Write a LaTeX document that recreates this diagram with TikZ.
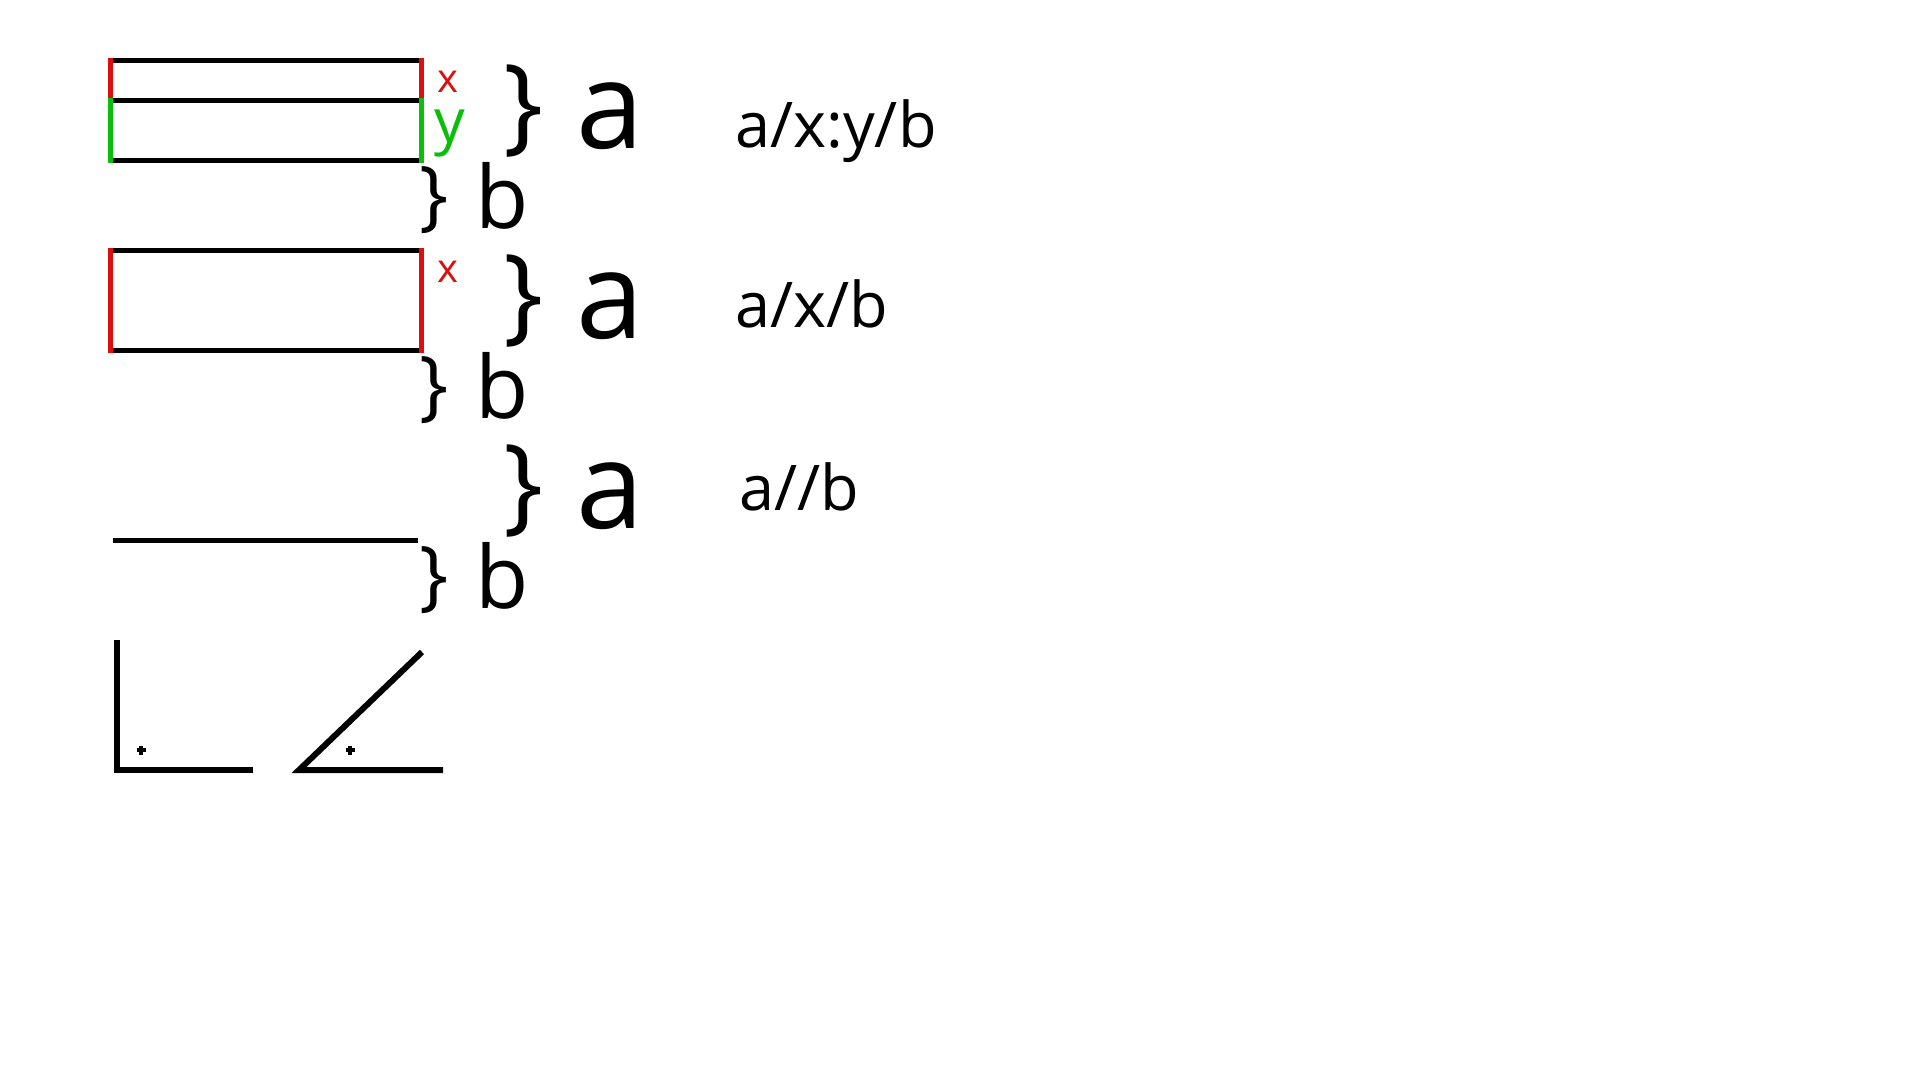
\documentclass[tikz,border=0pt]{standalone}
\usepackage{fontspec}
\setmainfont{Open Sans}
\definecolor{myred}{RGB}{220,15,15}
\definecolor{mygreen}{RGB}{10,190,10}
\tikzset{
  edge/.style={line width=5pt, line cap=butt},
  angleline/.style={line width=5.5pt, line cap=butt, line join=miter},
  txt/.style={inner sep=0pt, anchor=base west},
  bigbrace/.style={txt, font=\fontsize{106}{106}\selectfont},
  smallbrace/.style={txt, font=\fontsize{77}{77}\selectfont},
  biga/.style={txt, font=\fontsize{121}{121}\selectfont},
  bigb/.style={txt, font=\fontsize{87}{87}\selectfont},
  formula/.style={txt, font=\fontsize{63}{63}\selectfont},
  xlabel/.style={txt, text=myred, font=\fontsize{40}{40}\selectfont},
  ylabel/.style={txt, text=mygreen, font=\fontsize{61}{61}\selectfont},
  dotmark/.style={line width=4pt}
}
\begin{document}
\begin{tikzpicture}[x=1pt, y=-1pt]
\useasboundingbox (0,0) rectangle (1920,1080);
% ---------- row 1 ----------
\draw[edge] (110,60) -- (421,60);
\draw[edge] (110,100) -- (421,100);
\draw[edge] (110,160) -- (421,160);
\draw[edge, myred] (110,57.5) -- (110,98);
\draw[edge, myred] (421,57.5) -- (421,98);
\draw[edge, mygreen] (110,98) -- (110,162.5);
\draw[edge, mygreen] (421,98) -- (421,162.5);
\node[xlabel] (x1) at (437,92) {x};
\node[ylabel] (y1) at (434,142) {y};
\node[bigbrace] (ba1) at (503,140) {\}};
\node[biga] (a1) at (576,148) {a};
\node[smallbrace] (bb1) at (419,221) {\}};
\node[bigb] (b1) at (475,228) {b};
\node[formula] (f1) at (735,147) {a/x:y/b};
% ---------- row 2 ----------
\draw[edge] (110,250) -- (421,250);
\draw[edge] (110,350) -- (421,350);
\draw[edge, myred] (110,247.5) -- (110,352.5);
\draw[edge, myred] (421,247.5) -- (421,352.5);
\node[xlabel] (x2) at (437,282) {x};
\node[bigbrace] (ba2) at (503,330) {\}};
\node[biga] (a2) at (576,338) {a};
\node[smallbrace] (bb2) at (419,411) {\}};
\node[bigb] (b2) at (475,418) {b};
\node[formula] (f2) at (735,327) {a/x/b};
% ---------- row 3 ----------
\draw[edge] (113,540) -- (418,540);
\node[bigbrace] (ba3) at (503,520) {\}};
\node[biga] (a3) at (576,528) {a};
\node[smallbrace] (bb3) at (419,601) {\}};
\node[bigb] (b3) at (475,608) {b};
\node[formula] (f3) at (739,510) {a//b};
% ---------- angles ----------
\draw[angleline] (117,640) -- (117,770) -- (253,770);
\draw[dotmark] (136.5,750) -- (145.5,750) (141,745.5) -- (141,754.5);
\draw[angleline, line width=6pt] (422,652) -- (299,770) -- (443,770);
\draw[dotmark] (345.5,750) -- (354.5,750) (350,745.5) -- (350,754.5);
\end{tikzpicture}
\end{document}
